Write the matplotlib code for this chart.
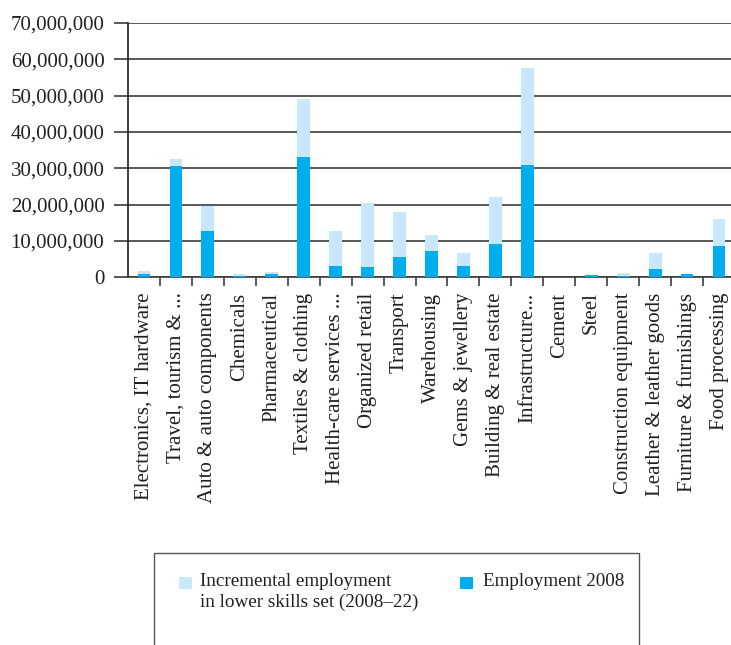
import matplotlib
matplotlib.use("Agg")
import matplotlib.pyplot as plt
from matplotlib.patches import Rectangle
from matplotlib.ticker import FuncFormatter, FixedLocator
import numpy as np

sectors = [
    "Electronics, IT hardware", "Travel, tourism & ...", "Auto & auto components",
    "Chemicals", "Pharmaceutical", "Textiles & clothing", "Health-care services ...",
    "Organized retail", "Transport", "Warehousing", "Gems & jewellery",
    "Building & real estate", "Infrastructure...", "Cement", "Steel",
    "Construction equipment", "Leather & leather goods", "Furniture & furnishings",
    "Food processing",
]
employment_2008 = [0.9e6, 30.6e6, 12.7e6, 0.4e6, 0.9e6, 33.1e6, 3.1e6, 2.8e6, 5.6e6,
                   7.2e6, 3.1e6, 9.2e6, 30.9e6, 0.0, 0.6e6, 0.4e6, 2.3e6, 0.9e6, 8.6e6]
incremental_lower_skills = [0.8e6, 2.0e6, 7.0e6, 0.5e6, 0.5e6, 16.0e6, 9.6e6, 17.6e6,
                            12.4e6, 4.4e6, 3.6e6, 12.9e6, 26.7e6, 0.0, 0.0, 0.8e6,
                            4.4e6, 0.0, 7.4e6]
y_ticks = [0, 10e6, 20e6, 30e6, 40e6, 50e6, 60e6, 70e6]
legend_labels = ["Incremental employment\nin lower skills set (2008\u201322)",
                 "Employment 2008"]

DARK = "#00aeef"
LIGHT = "#c6e8f8"
INK = "#231f20"
GRID = "#3c3c3c"
FS = 15
LEG_FS = 13.8

plt.rcParams["font.family"] = ["Liberation Serif", "DejaVu Serif"]
plt.rcParams["font.size"] = FS

W, H = 731, 645
fig = plt.figure(figsize=(W / 100, H / 100), dpi=100)
ax = fig.add_axes([128 / W, 367.7 / H, 607 / W, 254.3 / H])

x = np.arange(len(sectors))
ax.bar(x, employment_2008, width=0.4, color=DARK, zorder=3)
ax.bar(x, incremental_lower_skills, width=0.4, bottom=employment_2008, color=LIGHT,
       zorder=3)

ax.set_xlim(-0.5, len(sectors) - 0.5)
ax.set_ylim(0, 70e6)
ax.set_yticks(y_ticks)
ax.yaxis.set_major_formatter(FuncFormatter(lambda v, p: f"{int(v):,}"))
ax.yaxis.grid(True, color=GRID, linewidth=1.2, zorder=1)
ax.set_axisbelow(True)

ax.set_xticks(x)
ax.set_xticklabels(sectors, rotation=90, va="top", ha="center")
ax.xaxis.set_minor_locator(FixedLocator(np.arange(0.5, len(sectors) - 0.5, 1.0)))
ax.tick_params(axis="x", which="major", length=0, pad=11, colors=INK)
ax.tick_params(axis="x", which="minor", length=6.5, width=1.2, color=GRID, direction="out")
ax.tick_params(axis="y", length=10, width=1.2, pad=7, labelcolor=INK, color=GRID)

for side in ("top", "right"):
    ax.spines[side].set_visible(False)
ax.spines["left"].set_color(INK)
ax.spines["left"].set_linewidth(1.2)
ax.spines["bottom"].set_color(GRID)
ax.spines["bottom"].set_linewidth(1.2)

# legend: frame runs off the bottom of the page, swatches sit on the first text line
fig.patches.append(Rectangle((154 / W, -0.05), (639 - 154) / W, (H - 553) / H + 0.05,
                             transform=fig.transFigure, fill=False,
                             edgecolor="#555555", linewidth=1.0))
entries = [(179, 200.5, LIGHT, legend_labels[0]), (460, 483, DARK, legend_labels[1])]
for sx, tx, col, txt in entries:
    fig.patches.append(Rectangle((sx / W, 1 - 589 / H), 12.5 / W, 12.5 / H,
                                 transform=fig.transFigure, color=col, linewidth=0))
    fig.text(tx / W, 1 - 573 / H, txt, ha="left", va="top", color=INK,
             fontsize=LEG_FS, linespacing=1.3)

fig.savefig("out.png", dpi=100)
